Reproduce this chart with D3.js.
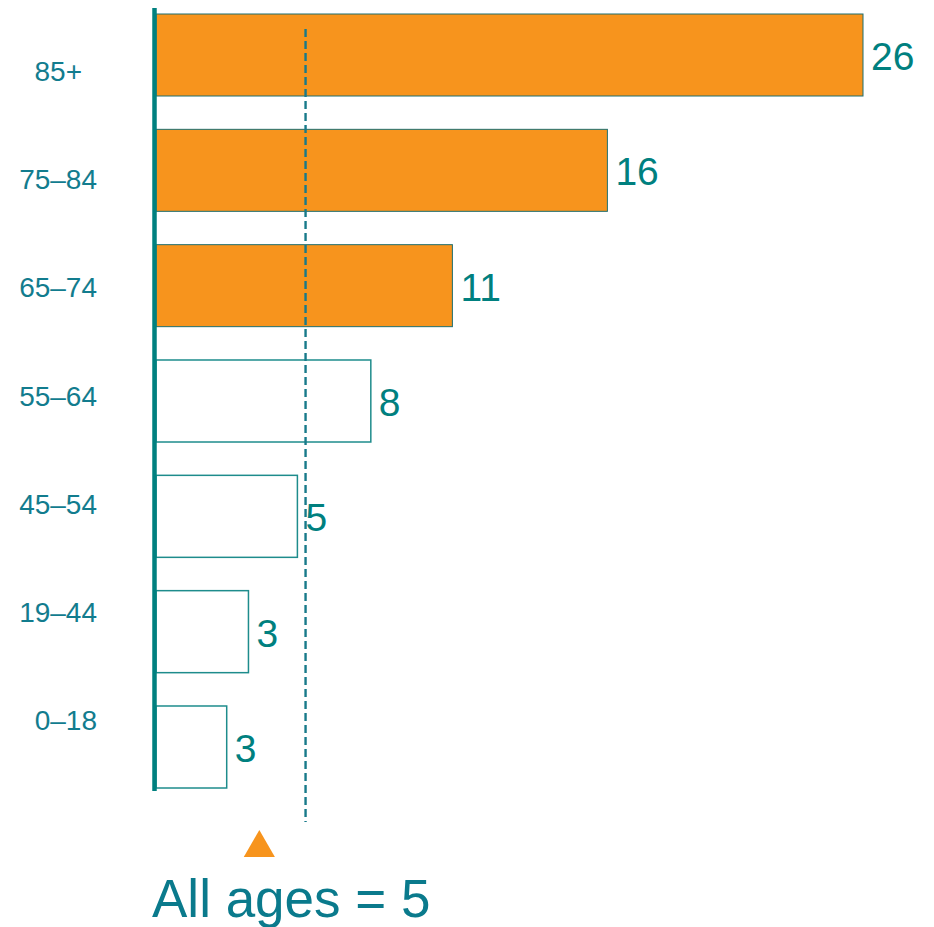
<!DOCTYPE html>
<html>
<head>
<meta charset="utf-8">
<script src="https://cdn.jsdelivr.net/npm/d3@7/dist/d3.min.js"></script>
<style>
  html, body { margin: 0; padding: 0; background: #ffffff; }
  svg { display: block; font-family: "Liberation Sans", Arial, sans-serif; }
</style>
</head>
<body>
<svg id="chart" width="934" height="927"></svg>
<script>
// ---- data ----
const categories = ["85+", "75–84", "65–74", "55–64", "45–54", "19–44", "0–18"];
const rates = [26.0, 16.6, 10.9, 7.9, 5.2, 3.4, 2.6];
const rateLabels = ["26", "16", "11", "8", "5", "3", "3"];
const highlighted = [true, true, true, false, false, false, false];
const allAgesValue = [5.5];
const markerValue = [3.8];
const allAgesLabel = ["All ages = 5"];

// ---- styles ----
const orange = "#F7941D";
const teal = "#00807F";
const labelTeal = "#127C8E";

const svg = d3.select("#chart");

const x = d3.scaleLinear().domain([0, 26]).range([156, 863]);
const y = d3.scaleBand().domain(categories).range([13, 787]).paddingInner(0.289).paddingOuter(0);
const yLab = d3.scalePoint().domain(categories).range([81, 730]);

const rows = categories.map((c, i) => ({ c, v: rates[i], lab: rateLabels[i], hi: highlighted[i] }));

// bars
svg.selectAll("rect.bar").data(rows).join("rect")
  .attr("class", "bar")
  .attr("x", x(0))
  .attr("y", d => y(d.c) + 1)
  .attr("width", d => x(d.v) - x(0))
  .attr("height", y.bandwidth())
  .attr("fill", d => d.hi ? orange : "none")
  .attr("stroke", d => d.hi ? "#1F6F6F" : "#1E8C8C")
  .attr("stroke-width", d => d.hi ? 1 : 1.5);

// dashed reference line (on top of bars)
svg.selectAll("line.ref").data(allAgesValue).join("line")
  .attr("class", "ref")
  .attr("x1", d => x(d)).attr("x2", d => x(d))
  .attr("y1", 29).attr("y2", 822)
  .attr("stroke", "#187A8A").attr("stroke-width", 2.4)
  .attr("stroke-dasharray", "8,4");

// value labels
svg.selectAll("text.val").data(rows).join("text")
  .attr("class", "val")
  .attr("x", d => x(d.v) + 8)
  .attr("y", d => y(d.c) + y.bandwidth() / 2 + 16)
  .attr("fill", teal)
  .attr("font-size", 39)
  .text(d => d.lab);

// category labels
svg.selectAll("text.cat").data(rows).join("text")
  .attr("class", "cat")
  .attr("x", (d, i) => i === 0 ? 82 : 97)
  .attr("y", d => yLab(d.c))
  .attr("text-anchor", "end")
  .attr("fill", labelTeal)
  .attr("font-size", 28)
  .text(d => d.c);

// vertical axis line
svg.append("line")
  .attr("x1", 154.5).attr("x2", 154.5)
  .attr("y1", 8).attr("y2", 791)
  .attr("stroke", teal).attr("stroke-width", 4.5);

// triangle marker
const tri = d3.symbol().type(d3.symbolTriangle).size(420);
svg.selectAll("path.marker").data(markerValue).join("path")
  .attr("class", "marker")
  .attr("d", tri)
  .attr("transform", d => `translate(${x(d)},848)`)
  .attr("fill", orange);

// all ages label
svg.selectAll("text.all").data(allAgesLabel).join("text")
  .attr("class", "all")
  .attr("x", 152)
  .attr("y", 917)
  .attr("fill", "#0A7A8C")
  .attr("font-size", 53)
  .text(d => d);
</script>
</body>
</html>
